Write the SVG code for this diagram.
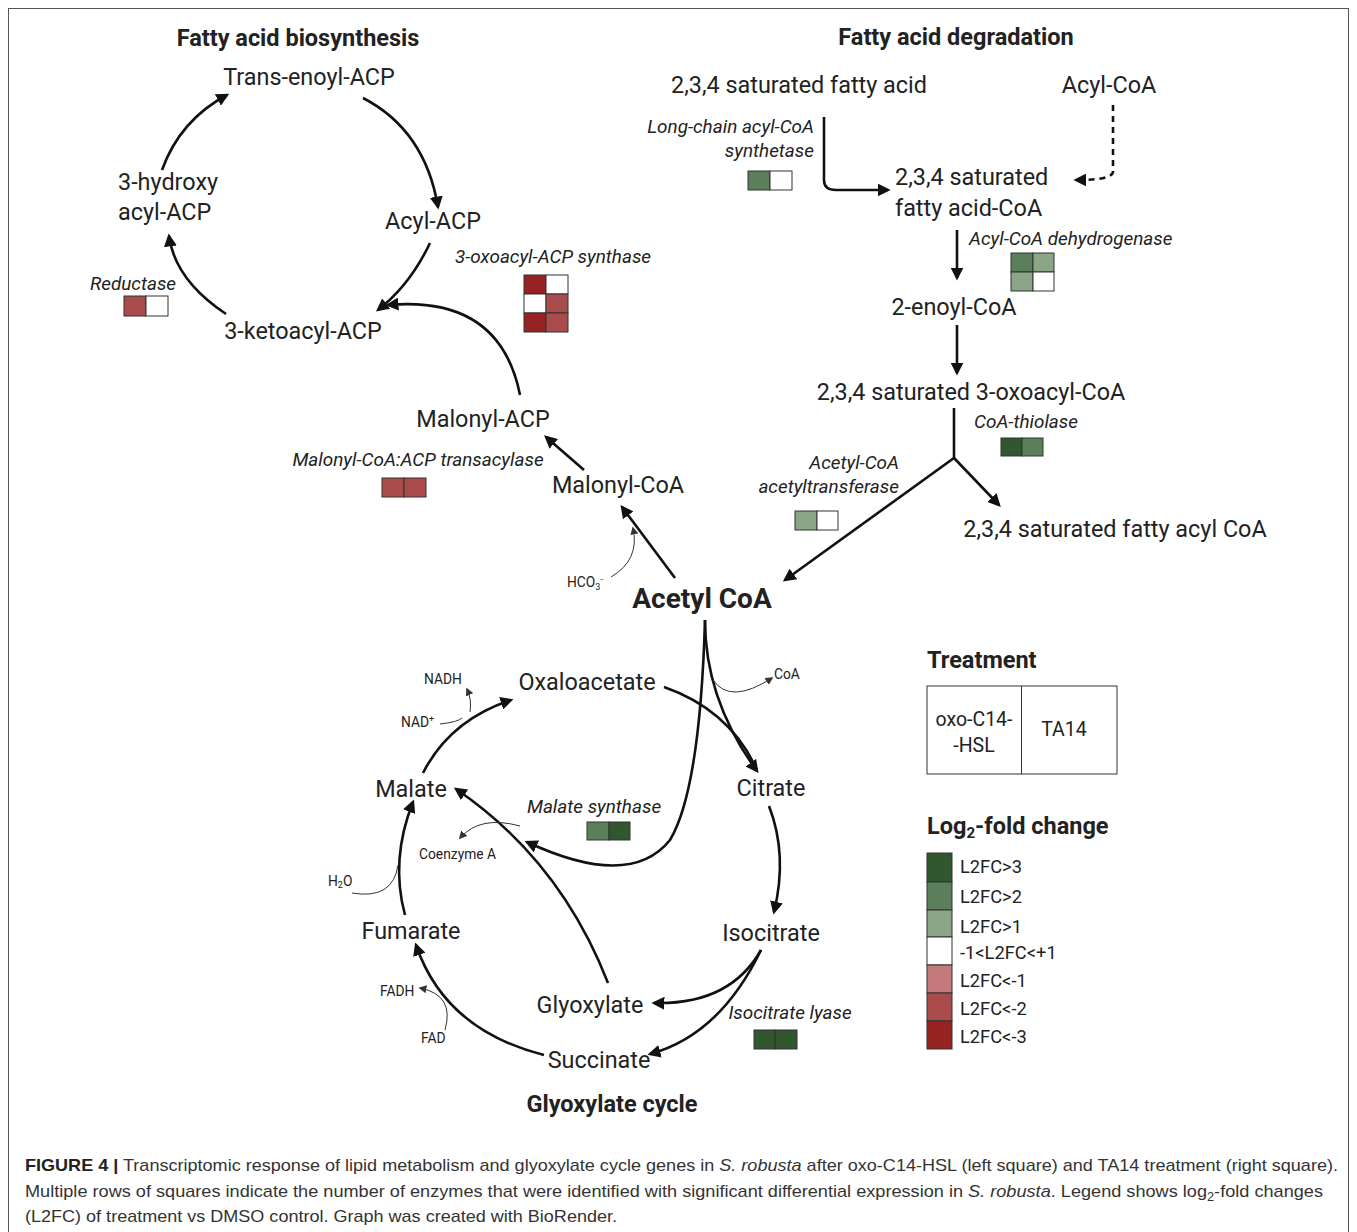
<svg xmlns="http://www.w3.org/2000/svg" width="1357" height="1232" viewBox="0 0 1357 1232">
<defs>
<style>
text{font-family:Roboto,"Liberation Sans",sans-serif;fill:#222}
.n{font-size:23.4px}
.t{font-size:23.5px;font-weight:bold}
.e{font-size:18.9px;font-style:italic}
.s{font-size:13.8px}
.l{font-size:18.3px}
.c{font-family:"Liberation Sans",Arial,sans-serif;font-size:17px;fill:#333}
.m{text-anchor:middle}
.r{text-anchor:end}
.k{fill:none;stroke:#111;stroke-width:2.6}
.th{fill:none;stroke:#333;stroke-width:1}
.sq{stroke:#333;stroke-width:1}
.g3{fill:#31572f}.g2{fill:#5a7f5a}.g1{fill:#8ba587}.w{fill:#fff}.r1{fill:#c47a7a}.r2{fill:#ab4c4c}.r3{fill:#962222}
</style>
<marker id="a" viewBox="0 0 10 10" refX="8" refY="5" markerWidth="5" markerHeight="5" orient="auto" markerUnits="strokeWidth"><path d="M0,0 L10,5 L0,10 z" fill="#111"/></marker>
<marker id="b" viewBox="0 0 10 10" refX="8" refY="5" markerWidth="8" markerHeight="8" orient="auto" markerUnits="strokeWidth"><path d="M0,0 L10,5 L0,10 z" fill="#333"/></marker>
</defs>
<rect x="8.5" y="8.5" width="1340" height="1232" fill="#fff" stroke="#555" stroke-width="1"/>

<g id="connectors">
<path class="k" marker-end="url(#a)" d="M363,98 Q425,130 438,207"/>
<path class="k" marker-end="url(#a)" d="M430,243 Q410,285 378,310"/>
<path class="k" marker-end="url(#a)" d="M520,395 Q500,295 388,305"/>
<path class="k" marker-end="url(#a)" d="M226,314 Q175,280 169,236"/>
<path class="k" marker-end="url(#a)" d="M162,170 Q180,120 227,95"/>
<path class="k" marker-end="url(#a)" d="M584,470 L546,437"/>
<path class="k" marker-end="url(#a)" d="M675,578 L622,507"/>
<path class="th" marker-end="url(#b)" d="M611,577 Q640,560 633,528"/>
<path class="k" marker-end="url(#a)" d="M824,117 L824,180 Q824,190 836,190 L888,190"/>
<path class="k" stroke-dasharray="6,5" marker-end="url(#a)" d="M1113,105 L1113,172 Q1112,180 1076,180"/>
<path class="k" marker-end="url(#a)" d="M957,230 L957,278"/>
<path class="k" marker-end="url(#a)" d="M957,325 L957,373"/>
<path class="k" d="M954,408 L954,458"/>
<path class="k" marker-end="url(#a)" d="M954,458 L999,505"/>
<path class="k" marker-end="url(#a)" d="M954,458 L785,580"/>
<path class="k" marker-end="url(#a)" d="M423,773 Q450,720 511,700"/>
<path class="k" d="M664,687 Q730,710 757,770"/>
<path class="k" marker-end="url(#a)" d="M705,620 Q705,700 757,771"/>
<path class="k" marker-end="url(#a)" d="M705,620 Q700,790 670,840 Q630,890 527,842"/>
<path class="th" marker-end="url(#b)" d="M713,680 Q730,705 772,678"/>
<path class="k" marker-end="url(#a)" d="M608,983 Q560,860 456,789"/>
<path class="th" marker-end="url(#b)" d="M520,826 Q480,815 460,838"/>
<path class="k" marker-end="url(#a)" d="M769,806 Q788,855 774,912"/>
<path class="k" marker-end="url(#a)" d="M761,950 Q730,1005 654,1003"/>
<path class="k" marker-end="url(#a)" d="M761,950 Q720,1035 650,1054"/>
<path class="k" marker-end="url(#a)" d="M544,1055 Q445,1030 416,945"/>
<path class="th" marker-end="url(#b)" d="M445,1030 Q455,995 420,988"/>
<path class="k" marker-end="url(#a)" d="M405,915 Q390,860 413,802"/>
<path class="th" d="M352,893 Q393,900 398,865"/>
<path class="th" d="M440,724 Q458,722 462,718"/>
<path class="th" marker-end="url(#b)" d="M470,712 Q472,700 467,689"/>
</g>

<g id="titles">
<text class="t m" x="298" y="46">Fatty acid biosynthesis</text>
<text class="t m" x="956" y="45">Fatty acid degradation</text>
<text class="t m" x="612" y="1112">Glyoxylate cycle</text>
</g>

<g id="trans-enoyl-acp"><text class="n m" x="309" y="85">Trans-enoyl-ACP</text></g>
<g id="hydroxyacyl-acp"><text class="n" x="118" y="190">3-hydroxy</text><text class="n" x="118" y="220">acyl-ACP</text></g>
<g id="acyl-acp"><text class="n m" x="433" y="229">Acyl-ACP</text></g>
<g id="ketoacyl-acp"><text class="n m" x="303" y="339">3-ketoacyl-ACP</text></g>
<g id="reductase"><text class="e m" x="133" y="290">Reductase</text>
<rect class="sq r2" x="124" y="296" width="22" height="20"/><rect class="sq w" x="146" y="296" width="22" height="20"/></g>
<g id="oxoacyl-synthase"><text class="e m" x="553" y="263">3-oxoacyl-ACP synthase</text>
<rect class="sq r3" x="524" y="275" width="22" height="19"/><rect class="sq w" x="546" y="275" width="22" height="19"/>
<rect class="sq w" x="524" y="294" width="22" height="19"/><rect class="sq r2" x="546" y="294" width="22" height="19"/>
<rect class="sq r3" x="524" y="313" width="22" height="19"/><rect class="sq r2" x="546" y="313" width="22" height="19"/></g>
<g id="malonyl-acp"><text class="n m" x="483" y="427">Malonyl-ACP</text></g>
<g id="transacylase"><text class="e m" x="418" y="466">Malonyl-CoA:ACP transacylase</text>
<rect class="sq r2" x="382" y="478" width="22" height="19"/><rect class="sq r2" x="404" y="478" width="22" height="19"/></g>
<g id="malonyl-coa"><text class="n m" x="618" y="493">Malonyl-CoA</text></g>
<g id="hco3"><text class="s" x="567" y="587">HCO<tspan font-size="9" dy="3">3</tspan><tspan font-size="9" dy="-8">-</tspan></text></g>
<g id="acetyl-coa"><text class="m" x="702" y="608" font-size="28" font-weight="bold">Acetyl CoA</text></g>

<g id="sat-fatty-acid"><text class="n m" x="799" y="93">2,3,4 saturated fatty acid</text></g>
<g id="acyl-coa"><text class="n m" x="1109" y="93">Acyl-CoA</text></g>
<g id="lc-synthetase"><text class="e r" x="814" y="133">Long-chain acyl-CoA</text><text class="e r" x="814" y="157">synthetase</text>
<rect class="sq g2" x="748" y="171" width="22" height="19"/><rect class="sq w" x="770" y="171" width="22" height="19"/></g>
<g id="sat-fatty-acid-coa"><text class="n" x="895" y="185">2,3,4 saturated</text><text class="n" x="895" y="216">fatty acid-CoA</text></g>
<g id="dehydrogenase"><text class="e" x="969" y="245">Acyl-CoA dehydrogenase</text>
<rect class="sq g2" x="1011" y="253" width="22" height="19"/><rect class="sq g1" x="1033" y="253" width="21" height="19"/>
<rect class="sq g1" x="1011" y="272" width="22" height="19"/><rect class="sq w" x="1033" y="272" width="21" height="19"/></g>
<g id="enoyl-coa"><text class="n m" x="954" y="315">2-enoyl-CoA</text></g>
<g id="oxoacyl-coa"><text class="n m" x="971" y="400">2,3,4 saturated 3-oxoacyl-CoA</text></g>
<g id="thiolase"><text class="e m" x="1026" y="428">CoA-thiolase</text>
<rect class="sq g3" x="1001" y="438" width="21" height="18"/><rect class="sq g2" x="1022" y="438" width="21" height="18"/></g>
<g id="acetyltransferase"><text class="e r" x="899" y="469">Acetyl-CoA</text><text class="e r" x="899" y="493">acetyltransferase</text>
<rect class="sq g1" x="795" y="511" width="22" height="19"/><rect class="sq w" x="817" y="511" width="21" height="19"/></g>
<g id="fatty-acyl-coa"><text class="n m" x="1115" y="537">2,3,4 saturated fatty acyl CoA</text></g>

<g id="oxaloacetate"><text class="n m" x="587" y="690">Oxaloacetate</text></g>
<g id="citrate"><text class="n m" x="771" y="796">Citrate</text></g>
<g id="isocitrate"><text class="n m" x="771" y="941">Isocitrate</text></g>
<g id="glyoxylate"><text class="n m" x="590" y="1013">Glyoxylate</text></g>
<g id="succinate"><text class="n m" x="599" y="1068">Succinate</text></g>
<g id="fumarate"><text class="n m" x="411" y="939">Fumarate</text></g>
<g id="malate"><text class="n m" x="411" y="797">Malate</text></g>
<g id="malate-synthase"><text class="e m" x="594" y="813">Malate synthase</text>
<rect class="sq g2" x="587" y="822" width="22" height="18"/><rect class="sq g3" x="609" y="822" width="21" height="18"/></g>
<g id="isocitrate-lyase"><text class="e m" x="790" y="1019">Isocitrate lyase</text>
<rect class="sq g3" x="754" y="1030" width="21" height="19"/><rect class="sq g3" x="775" y="1030" width="22" height="19"/></g>
<g id="cofactors">
<text class="s" x="424" y="684">NADH</text>
<text class="s" x="401" y="727">NAD<tspan font-size="9" dy="-5">+</tspan></text>
<text class="s" x="419" y="859">Coenzyme A</text>
<text class="s" x="328" y="886">H<tspan font-size="9" dy="2">2</tspan><tspan dy="-2">O</tspan></text>
<text class="s" x="380" y="996">FADH</text>
<text class="s" x="421" y="1043">FAD</text>
<text class="s" x="774" y="679">CoA</text>
</g>

<g id="legend">
<text class="t" x="927" y="668">Treatment</text>
<rect x="927" y="686" width="190" height="88" fill="#fff" stroke="#333" stroke-width="1"/>
<line x1="1021.5" y1="686" x2="1021.5" y2="774" stroke="#333" stroke-width="1"/>
<text class="m" x="974" y="726" font-size="19.5">oxo-C14-</text>
<text class="m" x="974" y="752" font-size="19.5">-HSL</text>
<text class="m" x="1064" y="736" font-size="19.5">TA14</text>
<text class="t" x="927" y="834">Log<tspan font-size="15" dy="4">2</tspan><tspan dy="-4">-fold change</tspan></text>
<rect class="sq g3" x="927" y="853" width="25" height="29"/>
<rect class="sq g2" x="927" y="882" width="25" height="28"/>
<rect class="sq g1" x="927" y="910" width="25" height="27"/>
<rect class="sq w" x="927" y="937" width="25" height="28"/>
<rect class="sq r1" x="927" y="965" width="25" height="28"/>
<rect class="sq r2" x="927" y="993" width="25" height="28"/>
<rect class="sq r3" x="927" y="1021" width="25" height="28"/>
<text class="l" x="960" y="873">L2FC&gt;3</text>
<text class="l" x="960" y="903">L2FC&gt;2</text>
<text class="l" x="960" y="933">L2FC&gt;1</text>
<text class="l" x="960" y="959">-1&lt;L2FC&lt;+1</text>
<text class="l" x="960" y="987">L2FC&lt;-1</text>
<text class="l" x="960" y="1015">L2FC&lt;-2</text>
<text class="l" x="960" y="1043">L2FC&lt;-3</text>
</g>

<g id="caption">
<text class="c" x="25" y="1171" textLength="1313" lengthAdjust="spacingAndGlyphs"><tspan font-weight="bold" fill="#222">FIGURE 4 |</tspan> Transcriptomic response of lipid metabolism and glyoxylate cycle genes in <tspan font-style="italic">S. robusta</tspan> after oxo-C14-HSL (left square) and TA14 treatment (right square).</text>
<text class="c" x="25" y="1197" textLength="1298" lengthAdjust="spacingAndGlyphs">Multiple rows of squares indicate the number of enzymes that were identified with significant differential expression in <tspan font-style="italic">S. robusta</tspan>. Legend shows log<tspan font-size="12" dy="4">2</tspan><tspan dy="-4">-fold changes</tspan></text>
<text class="c" x="25" y="1222" textLength="592" lengthAdjust="spacingAndGlyphs">(L2FC) of treatment vs DMSO control. Graph was created with BioRender.</text>
</g>
</svg>
